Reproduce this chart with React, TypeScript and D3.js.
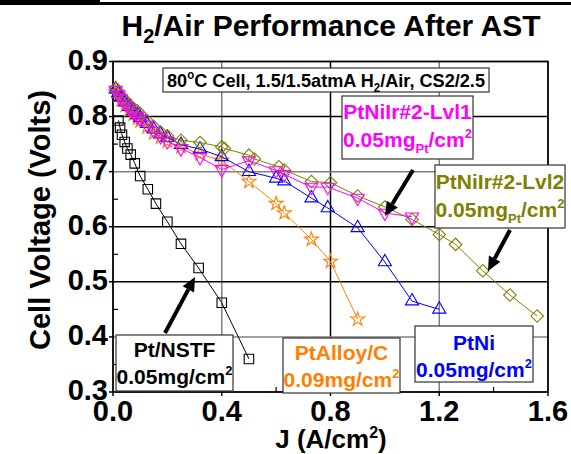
import React from 'react';
import * as d3 from 'd3';

const W = 571;
const H = 454;

// axis ticks
const xTickValues = [0, 0.4, 0.8, 1.2, 1.6];
const xTickLabels = ['0.0', '0.4', '0.8', '1.2', '1.6'];
const yTickValues = [0.3, 0.4, 0.5, 0.6, 0.7, 0.8, 0.9];
const yTickLabels = ['0.3', '0.4', '0.5', '0.6', '0.7', '0.8', '0.9'];
const xMinorTicks = [0.2, 0.6, 1.0, 1.4];
const yMinorTicks = [0.35, 0.45, 0.55, 0.65, 0.75, 0.85];
const xGridValues = [0.4, 0.8, 1.2];
const yGridValues = [0.4, 0.5, 0.6, 0.7, 0.8];

// Pt/NSTF 0.05mg/cm2
const nstfJ = [0.02, 0.026, 0.033, 0.043, 0.053, 0.065, 0.08, 0.1, 0.128, 0.158, 0.2, 0.25, 0.315, 0.4, 0.5];
const nstfV = [0.793, 0.78, 0.767, 0.754, 0.742, 0.731, 0.715, 0.692, 0.668, 0.642, 0.609, 0.569, 0.525, 0.462, 0.36];

// PtAlloy/C 0.09mg/cm2
const alloyJ = [0.01, 0.02, 0.03, 0.045, 0.06, 0.075, 0.09, 0.1, 0.125, 0.15, 0.175, 0.2, 0.25, 0.32, 0.4, 0.5, 0.6, 0.63, 0.73, 0.8, 0.9];
const alloyV = [0.845, 0.838, 0.83, 0.82, 0.812, 0.804, 0.797, 0.792, 0.781, 0.77, 0.762, 0.755, 0.745, 0.732, 0.72, 0.682, 0.642, 0.625, 0.577, 0.537, 0.432];

// PtNi 0.05mg/cm2
const ptniJ = [0.01, 0.02, 0.03, 0.045, 0.06, 0.075, 0.09, 0.1, 0.125, 0.15, 0.175, 0.2, 0.25, 0.32, 0.4, 0.5, 0.6, 0.63, 0.73, 0.79, 0.9, 1.0, 1.1, 1.2];
const ptniV = [0.85, 0.843, 0.835, 0.826, 0.818, 0.81, 0.803, 0.798, 0.787, 0.777, 0.768, 0.762, 0.749, 0.741, 0.727, 0.7, 0.688, 0.683, 0.652, 0.634, 0.598, 0.536, 0.465, 0.45];

// PtNiIr#2-Lvl1 0.05mgPt/cm2
const lvl1J = [0.01, 0.02, 0.03, 0.045, 0.06, 0.075, 0.09, 0.1, 0.125, 0.15, 0.175, 0.2, 0.25, 0.32, 0.4, 0.5, 0.6, 0.63, 0.73, 0.79, 0.9, 1.0, 1.1];
const lvl1V = [0.848, 0.84, 0.832, 0.823, 0.815, 0.807, 0.8, 0.796, 0.785, 0.774, 0.764, 0.755, 0.742, 0.726, 0.704, 0.72, 0.702, 0.695, 0.672, 0.672, 0.652, 0.625, 0.618];

// PtNiIr#2-Lvl2 0.05mgPt/cm2
const lvl2J = [0.01, 0.02, 0.03, 0.045, 0.06, 0.075, 0.09, 0.1, 0.125, 0.15, 0.175, 0.2, 0.25, 0.32, 0.4, 0.41, 0.5, 0.52, 0.61, 0.63, 0.73, 0.8, 0.9, 1.0, 1.1, 1.2, 1.26, 1.36, 1.46, 1.56];
const lvl2V = [0.852, 0.845, 0.838, 0.83, 0.822, 0.815, 0.81, 0.805, 0.793, 0.782, 0.772, 0.765, 0.757, 0.753, 0.745, 0.742, 0.73, 0.723, 0.709, 0.703, 0.682, 0.68, 0.656, 0.636, 0.613, 0.586, 0.568, 0.52, 0.476, 0.438];

const FONT = '"Liberation Sans", Arial, Helvetica, sans-serif';

type Series = { J: number[]; V: number[]; color: string; marker: string };

const series: Series[] = [
  { J: nstfJ, V: nstfV, color: '#000000', marker: 'square' },
  { J: alloyJ, V: alloyV, color: '#FF8000', marker: 'star' },
  { J: ptniJ, V: ptniV, color: '#0000FF', marker: 'triangle' },
  { J: lvl2J, V: lvl2V, color: '#808000', marker: 'diamond' },
  { J: lvl1J, V: lvl1V, color: '#FF00FF', marker: 'invtriangle' },
];

function markerPath(kind: string): { d: string; rot: number } {
  if (kind === 'square') return { d: d3.symbol(d3.symbolSquare, 90)() as string, rot: 0 };
  if (kind === 'diamond') return { d: d3.symbol(d3.symbolSquare, 78)() as string, rot: 45 };
  if (kind === 'star') return { d: d3.symbol(d3.symbolStar, 60)() as string, rot: 0 };
  if (kind === 'triangle') return { d: d3.symbol(d3.symbolTriangle, 75)() as string, rot: 0 };
  return { d: d3.symbol(d3.symbolTriangle, 75)() as string, rot: 180 };
}

function Arrow({ x1, y1, x2, y2 }: { x1: number; y1: number; x2: number; y2: number }) {
  const ang = Math.atan2(y2 - y1, x2 - x1);
  const L = 14, Wd = 6.5;
  const bx = x2 - L * Math.cos(ang), by = y2 - L * Math.sin(ang);
  const px = -Math.sin(ang) * Wd, py = Math.cos(ang) * Wd;
  return (
    <g>
      <line x1={x1} y1={y1} x2={bx} y2={by} stroke="#000" strokeWidth={4} />
      <polygon points={`${x2},${y2} ${bx + px},${by + py} ${bx - px},${by - py}`} fill="#000" />
    </g>
  );
}

export default function App() {
  const x = d3.scaleLinear().domain([0, 1.6]).range([113, 548]);
  const y = d3.scaleLinear().domain([0.3, 0.9]).range([392, 61.5]);
  const line = d3.line<[number, number]>().x((d) => x(d[0])).y((d) => y(d[1]));

  const gridColor = (axis: string, v: number) => {
    if (axis === 'x') return v === 0.8 ? '#000' : '#808080';
    return v === 0.4 || v === 0.7 ? '#808080' : '#000';
  };

  const labelBox = (x0: number, y0: number, w: number, h: number) => (
    <rect x={x0} y={y0} width={w} height={h} fill="#fff" stroke="#333" strokeWidth={1.2} />
  );

  return (
    <svg width={W} height={H} style={{ position: 'absolute', left: 0, top: 0, background: '#fff' }} fontFamily={FONT}>
      <rect x={0} y={0} width={W} height={H} fill="#fff" />
      <rect x={0} y={2} width={W} height={3} fill="#000" />
      <rect x={0} y={0} width={100} height={5} fill="#000" />

      {/* title */}
      <text x={331} y={36} fontSize={30} fontWeight="bold" textAnchor="middle">
        H<tspan fontSize={20} dy={7}>2</tspan>
        <tspan dy={-7}>/Air Performance After AST</tspan>
      </text>

      {/* grid */}
      {xGridValues.map((v) => (
        <line key={'gx' + v} x1={x(v)} x2={x(v)} y1={y(0.3)} y2={y(0.9)} stroke={gridColor('x', v)} strokeWidth={1.5} />
      ))}
      {yGridValues.map((v) => (
        <line key={'gy' + v} x1={x(0)} x2={x(1.6)} y1={y(v)} y2={y(v)} stroke={gridColor('y', v)} strokeWidth={1.5} />
      ))}

      {/* minor ticks */}
      {xMinorTicks.map((v) => (
        <line key={'mx' + v} x1={x(v)} x2={x(v)} y1={y(0.3)} y2={y(0.3) - 5} stroke="#000" strokeWidth={1.2} />
      ))}
      {yMinorTicks.map((v) => (
        <line key={'my' + v} x1={x(0)} x2={x(0) + 5} y1={y(v)} y2={y(v)} stroke="#000" strokeWidth={1.2} />
      ))}
      {yTickValues.map((v) => (
        <line key={'ty' + v} x1={x(0) - 4} x2={x(0)} y1={y(v)} y2={y(v)} stroke="#000" strokeWidth={1.5} />
      ))}
      {xTickValues.map((v) => (
        <line key={'tx' + v} x1={x(v)} x2={x(v)} y1={y(0.3)} y2={y(0.3) + 4} stroke="#000" strokeWidth={1.5} />
      ))}

      {/* frame */}
      <rect x={x(0)} y={y(0.9)} width={x(1.6) - x(0)} height={y(0.3) - y(0.9)} fill="none" stroke="#000" strokeWidth={1.8} />

      {/* series */}
      {series.map((s, i) => {
        const pts = s.J.map((j, k) => [j, s.V[k]] as [number, number]);
        const m = markerPath(s.marker);
        return (
          <g key={'s' + i}>
            <path d={line(pts) as string} fill="none" stroke={s.color} strokeWidth={1} />
            {pts.map((p, k) => (
              <path key={k} d={m.d} transform={`translate(${x(p[0])},${y(p[1])}) rotate(${m.rot})`} fill="none" stroke={s.color} strokeWidth={1.1} />
            ))}
          </g>
        );
      })}

      {/* condition box */}
      {labelBox(163, 68, 326, 24)}
      <text x={326} y={87} fontSize={19} fontWeight="bold" textAnchor="middle" textLength={318} lengthAdjust="spacingAndGlyphs">
        80<tspan fontSize={12} dy={-8}>o</tspan>
        <tspan dy={8}>C Cell, 1.5/1.5atmA H</tspan>
        <tspan fontSize={12} dy={5}>2</tspan>
        <tspan dy={-5}>/Air, CS2/2.5</tspan>
      </text>

      {/* PtNiIr#2-Lvl1 */}
      {labelBox(342, 96, 131, 63)}
      <text x={407.5} y={119} fontSize={21} fontWeight="bold" fill="#FF00FF" textAnchor="middle">PtNiIr#2-Lvl1</text>
      <text x={407.5} y={147} fontSize={21} fontWeight="bold" fill="#FF00FF" textAnchor="middle">
        0.05mg<tspan fontSize={13} dy={6}>Pt</tspan>
        <tspan dy={-6}>/cm</tspan>
        <tspan fontSize={13} dy={-9}>2</tspan>
      </text>

      {/* PtNiIr#2-Lvl2 */}
      {labelBox(435, 165, 130, 63)}
      <text x={500} y={189} fontSize={21} fontWeight="bold" fill="#808000" textAnchor="middle">PtNiIr#2-Lvl2</text>
      <text x={500} y={217} fontSize={21} fontWeight="bold" fill="#808000" textAnchor="middle">
        0.05mg<tspan fontSize={13} dy={6}>Pt</tspan>
        <tspan dy={-6}>/cm</tspan>
        <tspan fontSize={13} dy={-9}>2</tspan>
      </text>

      {/* PtNi */}
      {labelBox(415, 326, 118, 56)}
      <text x={474} y={350} fontSize={21} fontWeight="bold" fill="#0000FF" textAnchor="middle">PtNi</text>
      <text x={474} y={377} fontSize={21} fontWeight="bold" fill="#0000FF" textAnchor="middle">
        0.05mg/cm<tspan fontSize={13} dy={-9}>2</tspan>
      </text>

      {/* PtAlloy/C */}
      {labelBox(283, 338, 117, 55)}
      <text x={341.5} y={360} fontSize={21} fontWeight="bold" fill="#FF8000" textAnchor="middle">PtAlloy/C</text>
      <text x={341.5} y={387} fontSize={21} fontWeight="bold" fill="#FF8000" textAnchor="middle">
        0.09mg/cm<tspan fontSize={13} dy={-9}>2</tspan>
      </text>

      {/* Pt/NSTF */}
      {labelBox(116, 335, 117, 56)}
      <text x={174.5} y={357} fontSize={21} fontWeight="bold" fill="#000" textAnchor="middle">Pt/NSTF</text>
      <text x={174.5} y={384} fontSize={21} fontWeight="bold" fill="#000" textAnchor="middle">
        0.05mg/cm<tspan fontSize={13} dy={-9}>2</tspan>
      </text>

      {/* arrows */}
      <Arrow x1={413} y1={170} x2={385} y2={216} />
      <Arrow x1={510} y1={230} x2={488} y2={271} />
      <Arrow x1={165} y1={333} x2={195} y2={277} />

      {/* axis tick labels */}
      {yTickValues.map((v, i) => (
        <text key={'yl' + v} x={108} y={y(v) + 8} fontSize={29} fontWeight="bold" textAnchor="end">{yTickLabels[i]}</text>
      ))}
      {xTickValues.map((v, i) => (
        <text key={'xl' + v} x={x(v)} y={421} fontSize={29} fontWeight="bold" textAnchor="middle">{xTickLabels[i]}</text>
      ))}

      {/* axis titles */}
      <text transform="translate(50,220) rotate(-90)" fontSize={29} fontWeight="bold" textAnchor="middle">Cell Voltage (Volts)</text>
      <text x={331} y={448} fontSize={26} fontWeight="bold" textAnchor="middle">
        J (A/cm<tspan fontSize={16} dy={-10}>2</tspan>
        <tspan dy={10}>)</tspan>
      </text>
    </svg>
  );
}
